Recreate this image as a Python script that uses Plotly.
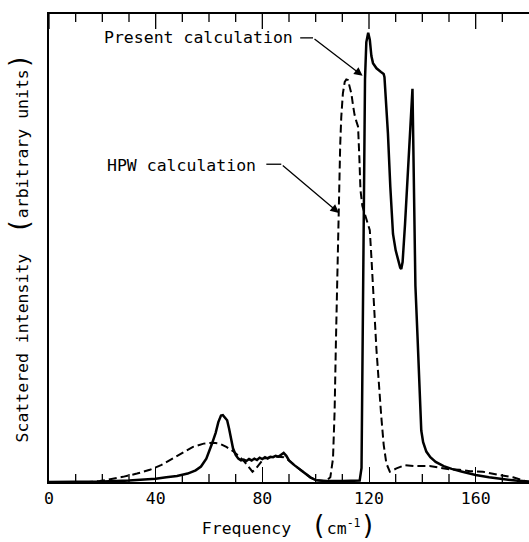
import plotly.graph_objects as go

# Present calculation (solid)
present_x = [0, 10, 20, 30, 36, 40, 44, 48, 52, 55, 57, 59, 61, 62.5, 63.5, 64.5, 65.2, 66, 66.8, 67.5,
             68.3, 69, 70, 71, 72, 73, 74, 75, 76, 77, 78, 79, 80, 81, 82, 83, 84, 85, 86, 87, 88, 89,
             90, 92, 94, 96, 98, 100, 104, 110, 115, 116.5, 117.2, 117.6, 118, 118.5, 119, 119.7, 120.3,
             120.9, 121.5, 122.8, 124.5, 125.5, 125.8, 126.5, 127.1, 128, 129, 130, 131, 131.7, 132.1,
             132.6, 133.5, 134.5, 135.5, 136.3, 136.8, 137.4, 138.2, 139, 139.6, 140.3, 141.5, 143, 145,
             148, 151, 155, 160, 165, 170, 175, 180]
present_y = [0, 0, 0.1, 0.3, 0.5, 0.7, 1.0, 1.3, 1.8, 2.5, 3.3, 5, 8, 10.5, 12.8, 14.2, 14.3, 13.8, 13.2, 11.5,
             9, 7.2, 5.8, 5.0, 4.6, 4.8, 4.5, 4.9, 4.6, 5.0, 4.7, 5.2, 4.9, 5.3, 5.0, 5.4, 5.3, 5.6, 5.4, 5.9, 6.2, 5.6,
             4.6, 3.6, 2.7, 1.8, 1.0, 0.4, 0.2, 0.2, 0.2, 0.3, 3, 30, 58, 86, 94, 96, 94.5,
             91, 89.5, 88.4, 87.6, 87.2, 86.5, 80, 74.5, 63, 53, 49.5, 47, 45.8, 45.5,
             47, 55, 66, 77, 84, 65, 42, 31, 21, 11, 8.5, 6.5, 5.3, 4.3,
             3.4, 2.8, 2.2, 1.5, 1.0, 0.6, 0.3, 0.1]

# HPW calculation (dashed)
hpw_x = [0, 15, 19, 23, 27.7, 33, 37.8, 42, 46.5, 50, 54, 58, 61.5, 64, 66.5, 69, 71.5, 73.5, 75, 76.3,
         77.5, 79, 80.5, 83, 86, 88, 90, 92, 95, 98, 100, 103, 104, 105.5, 106.5, 107.1, 107.6, 108.1,
         108.6, 109.2, 109.6, 110.2, 110.9, 111.5, 112.1, 112.8, 113.4, 114, 114.6, 115.3, 115.9, 116.4,
         116.8, 117.5, 118.4, 119.3, 120.3, 120.9, 121.5, 122.8, 124.6, 125.5, 126.5, 127.8, 130.3,
         133.4, 137, 142.7, 150.2, 154, 158, 162.7, 168, 174, 179]
hpw_y = [0, 0, 0.2, 0.6, 1.1, 1.8, 2.6, 3.6, 5.1, 6.2, 7.5, 8.2, 8.4, 8.2, 7.5, 6.6, 5.4, 4.2, 3.1, 2.2,
         2.8, 4.0, 5.0, 5.3, 5.4, 5.3, 4.6, 3.6, 2.3, 1.0, 0.4, 0.2, 0.3, 1, 5, 15, 30, 45,
         60, 72, 78, 83, 85.5, 86, 85.9, 84.5, 83, 80.5, 78.4, 77, 75.9, 69,
         62.4, 59, 57.4, 56, 53.8, 48, 41.4, 28.2, 14, 8, 4, 2.2, 2.9,
         3.6, 3.4, 3.4, 2.7, 2.6, 2.3, 2.2, 1.6, 1.0, 0.1]

x_ticks = [0, 40, 80, 120, 160]
x_tick_labels = ["0", "40", "80", "120", "160"]
x_minor_ticks = [10, 20, 30, 50, 60, 70, 90, 100, 110, 130, 140, 150, 170]

FONT = "DejaVu Sans Mono"
FS = 16.5
Y_MAX = 100
MAJOR_LEN = 3.2   # tick lengths in y-axis units (~15 px and ~8 px)
MINOR_LEN = 1.7

fig = go.Figure()
fig.add_trace(go.Scatter(x=hpw_x, y=hpw_y, mode="lines", name="HPW calculation",
                         line=dict(color="black", width=2, dash="8px,4px"), showlegend=False))
fig.add_trace(go.Scatter(x=present_x, y=present_y, mode="lines", name="Present calculation",
                         line=dict(color="black", width=2.5), showlegend=False))

big = "<span style='font-size:26px'>"
fig.update_layout(
    width=529, height=542,
    margin=dict(l=49, r=0, t=14, b=60),
    paper_bgcolor="white", plot_bgcolor="white",
    font=dict(family=FONT, size=FS, color="black"),
    xaxis=dict(range=[0, 180], tickmode="array", tickvals=x_ticks, ticktext=x_tick_labels,
               ticks="inside", ticklen=15, tickwidth=1.3, tickcolor="black", mirror=True,
               showline=True, linewidth=1.5, linecolor="black", showgrid=False, zeroline=False,
               title=dict(text="Frequency  " + big + "(</span>cm<sup>-1</sup>" + big + ")</span>",
                          font=dict(family=FONT, size=FS), standoff=16)),
    yaxis=dict(range=[0, Y_MAX], showticklabels=False, ticks="", showline=True, linewidth=1.5,
               linecolor="black", showgrid=False, zeroline=False,
               title=dict(text="Scattered intensity  " + big + "(</span>arbitrary units" + big + ")</span>",
                          font=dict(family=FONT, size=FS), standoff=14)),
)

# Top major ticks and minor ticks on both edges, placed on the axis scales
tick_line = dict(color="black", width=1.3)
for v in x_ticks:
    fig.add_shape(type="line", xref="x", yref="y", x0=v, x1=v, y0=Y_MAX, y1=Y_MAX - MAJOR_LEN,
                  line=tick_line)
for v in x_minor_ticks:
    fig.add_shape(type="line", xref="x", yref="y", x0=v, x1=v, y0=0, y1=MINOR_LEN, line=tick_line)
    fig.add_shape(type="line", xref="x", yref="y", x0=v, x1=v, y0=Y_MAX, y1=Y_MAX - MINOR_LEN,
                  line=tick_line)

# Labels with leader lines and arrows
fig.add_annotation(x=92.2, y=94.9, text="Present calculation", showarrow=False,
                   xanchor="right", yanchor="middle", font=dict(family=FONT, size=FS))
fig.add_shape(type="line", x0=94.2, x1=99, y0=94.9, y1=94.9, line=dict(color="black", width=1.3))
fig.add_annotation(x=117.6, y=86.8, ax=99, ay=94.9, axref="x", ayref="y", text="",
                   showarrow=True, arrowhead=2, arrowsize=1.3, arrowwidth=1.3, arrowcolor="black", standoff=0)

fig.add_annotation(x=78.3, y=67.7, text="HPW calculation", showarrow=False,
                   xanchor="right", yanchor="middle", font=dict(family=FONT, size=FS))
fig.add_shape(type="line", x0=81.5, x1=87.1, y0=67.9, y1=67.9, line=dict(color="black", width=1.3))
fig.add_annotation(x=108.7, y=57.5, ax=87.1, ay=67.9, axref="x", ayref="y", text="",
                   showarrow=True, arrowhead=2, arrowsize=1.3, arrowwidth=1.3, arrowcolor="black", standoff=0)

fig.write_html("out.html", config={"displayModeBar": False},
               post_script="document.body.style.margin='0';document.body.style.overflow='hidden';")
